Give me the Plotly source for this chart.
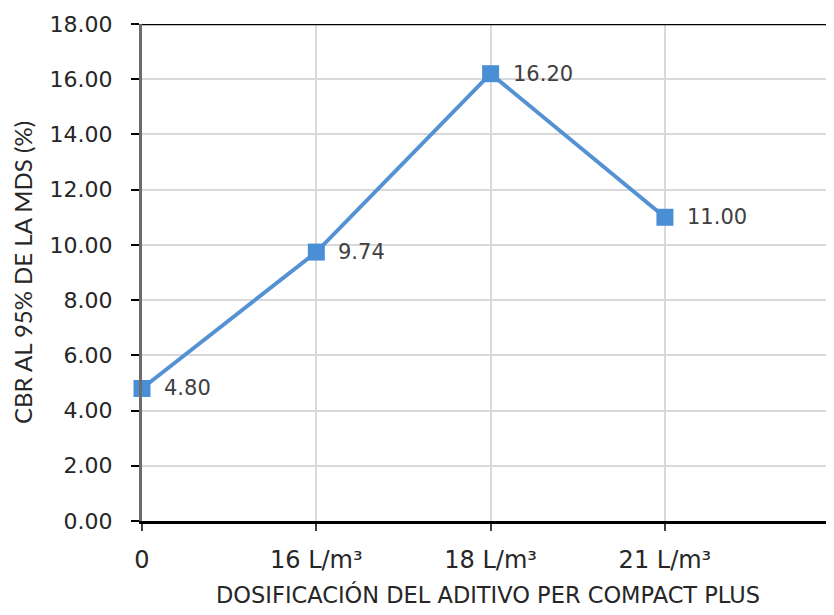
import plotly.graph_objects as go

categories = ["0", "16 L/m³", "18 L/m³", "21 L/m³"]
cbr_values = [4.80, 9.74, 16.20, 11.00]
y_ticks = [0, 2, 4, 6, 8, 10, 12, 14, 16, 18]

xpos = list(range(len(categories)))
hfont = "DejaVu Sans"
vfont = "Lato, 'Open Sans', sans-serif"

fig = go.Figure()
fig.add_trace(go.Scatter(
    x=xpos, y=cbr_values,
    mode="lines+markers",
    line=dict(color="#5592D3", width=4),
    marker=dict(symbol="square", size=17, color="#4A8ED6"),
    cliponaxis=False,
    showlegend=False,
))

for xi, v in zip(xpos, cbr_values):
    fig.add_annotation(x=xi, y=v, text=f"{v:.2f}", showarrow=False,
                       xanchor="left", yanchor="middle", xshift=20,
                       font=dict(family=hfont, size=21, color="#404040"))

fig.add_shape(type="line", xref="paper", yref="y", x0=0, x1=1, y0=18, y1=18,
              line=dict(color="black", width=2.5))

fig.add_annotation(xref="paper", yref="paper", x=0.5, y=0, yshift=-73,
                   text="DOSIFICACIÓN DEL ADITIVO PER COMPACT PLUS", showarrow=False,
                   xanchor="center", yanchor="middle",
                   font=dict(family=hfont, size=22.5, color="#262626"))

fig.update_layout(
    width=826, height=607,
    margin=dict(l=134, r=0, t=16, b=94),
    paper_bgcolor="white", plot_bgcolor="white",
    font=dict(family=hfont, color="#262626"),
    xaxis=dict(
        range=[0, 3.97], tickvals=xpos, ticktext=categories,
        showgrid=True, gridcolor="#D9D9D9", gridwidth=2,
        showline=True, linecolor="black", linewidth=2.5,
        ticks="outside", ticklen=7, tickcolor="#404040", tickwidth=2,
        tickfont=dict(size=24, color="#262626"),
        ticklabelstandoff=8,
        automargin=False, zeroline=False,
    ),
    yaxis=dict(
        range=[0, 18], tickvals=y_ticks, tickformat=".2f",
        showgrid=True, gridcolor="#D9D9D9", gridwidth=2,
        showline=True, linecolor="#6D6D6D", linewidth=3,
        ticks="outside", ticklen=8, tickcolor="black", tickwidth=2,
        tickfont=dict(size=22, color="#262626"),
        ticklabelstandoff=14,
        title=dict(text="CBR AL 95% DE LA MDS (%)", standoff=12,
                   font=dict(family=vfont, size=24, color="#262626")),
        automargin=False, zeroline=False,
    ),
)

fig.write_html("out.html")
